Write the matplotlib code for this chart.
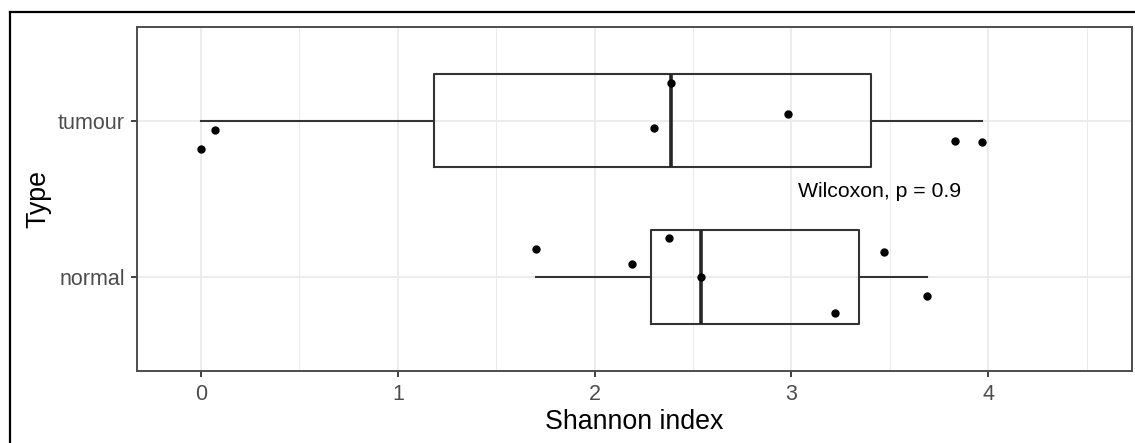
import matplotlib
matplotlib.use("Agg")
import matplotlib.pyplot as plt
from matplotlib.lines import Line2D
from matplotlib.ticker import MultipleLocator

plt.rcParams["font.family"] = ["Liberation Sans", "DejaVu Sans"]

# Shannon index per sample
groups = ["normal", "tumour"]
normal_vals = [1.70, 2.19, 2.38, 2.54, 3.22, 3.47, 3.69]
tumour_vals = [0.00, 0.07, 2.30, 2.39, 2.98, 3.83, 3.97]
# vertical jitter of each point (in category units)
normal_jit = [0.18, 0.08, 0.25, 0.00, -0.23, 0.16, -0.12]
tumour_jit = [-0.18, -0.06, -0.05, 0.24, 0.04, -0.13, -0.14]
x_ticks = [0, 1, 2, 3, 4]
stat_label = "Wilcoxon, p = 0.9"

INK = "#333333"
GRID = "#EBEBEB"
TICKTXT = "#4D4D4D"

fig = plt.figure(figsize=(11.35, 4.43), dpi=100)
fig.patch.set_facecolor("white")
ax = fig.add_axes([136.7 / 1135, 1 - 370.7 / 443, 995 / 1135, 344 / 443])

ax.set_xlim(-0.327, 4.729)
ax.set_ylim(0.4, 2.6)

ax.xaxis.set_major_locator(MultipleLocator(1))
ax.xaxis.set_minor_locator(MultipleLocator(0.5))
ax.grid(which="major", color=GRID, linewidth=1.3)
ax.grid(which="minor", axis="x", color=GRID, linewidth=0.7)
ax.set_axisbelow(True)

ax.boxplot([normal_vals, tumour_vals], positions=[1, 2], widths=0.6,
           orientation="horizontal", showcaps=False, showfliers=False,
           whis=1.5,
           boxprops={"color": INK, "linewidth": 1.5},
           whiskerprops={"color": INK, "linewidth": 1.5},
           medianprops={"color": "#262626", "linewidth": 2.6})

for base, vals, jit in [(1, normal_vals, normal_jit), (2, tumour_vals, tumour_jit)]:
    ax.plot(vals, [base + j for j in jit], "o", color="black",
            markersize=5, linestyle="none", zorder=5)

ax.text(3.033, 1.547, stat_label, fontsize=15.3, color="black",
        ha="left", va="center")

ax.set_xticks(x_ticks)
ax.set_xticklabels([str(t) for t in x_ticks])
ax.set_yticks([1, 2])
ax.set_yticklabels(groups)
ax.tick_params(which="major", colors=INK, labelcolor=TICKTXT, labelsize=15.5,
               length=4.5, width=1.3)
ax.tick_params(axis="x", pad=5)
ax.tick_params(axis="y", pad=4)
ax.tick_params(which="minor", length=0)

for s in ax.spines.values():
    s.set_color("#4D4D4D")
    s.set_linewidth(1.4)

ax.set_xlabel("Shannon index", fontsize=19.3, color="black", va="center")
ax.xaxis.set_label_coords(0.5, -0.148)
ax.set_ylabel("Type", fontsize=19.3, color="black", va="center")
ax.yaxis.set_label_coords(-0.0984, 0.5)

# outer frame (top and left edges visible)
fx, fy = 10 / 1135, 1 - 12 / 443
fig.add_artist(Line2D([fx, fx], [0, fy], transform=fig.transFigure,
                      color="black", linewidth=1.6))
fig.add_artist(Line2D([fx, 1], [fy, fy], transform=fig.transFigure,
                      color="black", linewidth=1.6))

fig.savefig("out.png", dpi=100, facecolor="white")
